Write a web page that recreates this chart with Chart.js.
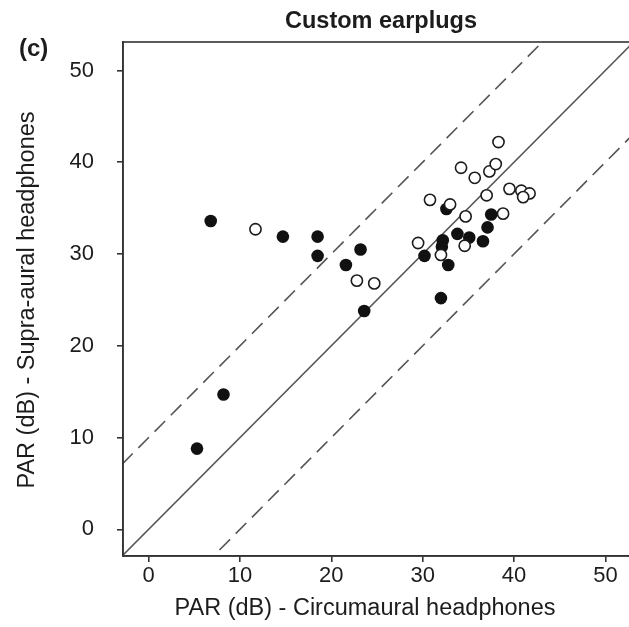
<!DOCTYPE html>
<html>
<head>
<meta charset="utf-8">
<title>Custom earplugs</title>
<script src="https://cdn.jsdelivr.net/npm/chart.js@4/dist/chart.umd.min.js"></script>
<style>
  html, body { margin: 0; padding: 0; background: #fff; }
  #wrap { width: 629px; height: 627px; overflow: hidden; position: relative; }
  canvas { display: block; }
</style>
</head>
<body>
<div id="wrap"><canvas id="parChart" width="640" height="627"></canvas></div>
<script>
// PAR (dB) per subject: circumaural (x) vs supra-aural (y)
const filledX = [5.3, 8.2, 6.8, 14.7, 18.5, 18.5, 21.6, 23.2, 23.6, 30.2, 32.0, 32.1, 32.2, 32.6, 32.8, 33.8, 35.1, 36.6, 37.1, 37.5];
const filledY = [8.8, 14.7, 33.6, 31.9, 31.9, 29.8, 28.8, 30.5, 23.8, 29.8, 25.2, 30.8, 31.5, 34.9, 28.8, 32.2, 31.8, 31.4, 32.9, 34.3];

const openX = [11.7, 22.8, 24.7, 29.5, 30.8, 32.0, 33.0, 34.6, 34.7, 38.8, 37.0, 39.5, 40.8, 41.7, 41.0, 35.7, 34.2, 37.3, 38.0, 38.3];
const openY = [32.7, 27.1, 26.8, 31.2, 35.9, 29.9, 35.4, 30.9, 34.1, 34.4, 36.4, 37.1, 36.9, 36.6, 36.2, 38.3, 39.4, 39.0, 39.8, 42.2];

// reference line y = x and the +/-10 dB band
const diagonalEnds = [-10, 70];
const bandOffset = 10;

const xTickValues = [0, 10, 20, 30, 40, 50];
const yTickValues = [0, 10, 20, 30, 40, 50];

const INK = '#1c1c1c';
const FONT = "'Liberation Sans', Arial, sans-serif";

function toPoints(xs, ys) {
  return xs.map((x, i) => ({ x, y: ys[i] }));
}

function diagonal(offset) {
  return diagonalEnds.map(x => ({ x, y: x + offset }));
}

// frame + titles drawn straight onto the canvas
const decorations = {
  id: 'decorations',
  afterDraw(chart) {
    const { ctx, chartArea } = chart;
    ctx.save();
    ctx.strokeStyle = '#333';
    ctx.lineWidth = 1.6;
    ctx.strokeRect(chartArea.left, chartArea.top, chartArea.right - chartArea.left, chartArea.bottom - chartArea.top);

    ctx.fillStyle = INK;
    ctx.textBaseline = 'alphabetic';

    ctx.font = `bold 23.5px ${FONT}`;
    ctx.textAlign = 'center';
    ctx.fillText('Custom earplugs', 381, 28);

    ctx.font = `bold 24px ${FONT}`;
    ctx.textAlign = 'left';
    ctx.fillText('(c)', 19, 56);

    ctx.font = `23.5px ${FONT}`;
    ctx.textAlign = 'center';
    ctx.fillText('PAR (dB) - Circumaural headphones', 365, 615);

    ctx.translate(34, 300);
    ctx.rotate(-Math.PI / 2);
    ctx.fillText('PAR (dB) - Supra-aural headphones', 0, 0);
    ctx.restore();
  }
};

const axisCommon = {
  type: 'linear',
  grid: { drawOnChartArea: false, drawTicks: true, tickLength: 6, color: '#333', lineWidth: 1.6 },
  border: { display: true, color: '#333', width: 1.6 },
};

new Chart(document.getElementById('parChart'), {
  type: 'scatter',
  data: {
    datasets: [
      {
        label: 'open',
        data: toPoints(openX, openY),
        pointRadius: 5.6,
        pointBackgroundColor: '#fff',
        pointBorderColor: INK,
        pointBorderWidth: 1.6,
      },
      {
        label: 'filled',
        data: toPoints(filledX, filledY),
        pointRadius: 6.3,
        pointBackgroundColor: '#111',
        pointBorderColor: '#111',
        pointBorderWidth: 0,
      },
      {
        type: 'line',
        label: 'y = x',
        data: diagonal(0),
        borderColor: '#555',
        borderWidth: 1.6,
        pointRadius: 0,
        clip: 0,
      },
      {
        type: 'line',
        label: 'upper',
        data: diagonal(bandOffset),
        borderColor: '#555',
        borderWidth: 1.6,
        borderDash: [15, 8],
        pointRadius: 0,
        clip: 0,
      },
      {
        type: 'line',
        label: 'lower',
        data: diagonal(-bandOffset),
        borderColor: '#555',
        borderWidth: 1.6,
        borderDash: [15, 8],
        pointRadius: 0,
        clip: 0,
      },
    ],
  },
  options: {
    responsive: false,
    devicePixelRatio: 1,
    animation: false,
    events: [],
    layout: { padding: { top: 42, right: 4, left: 0, bottom: 0 } },
    plugins: { legend: { display: false }, tooltip: { enabled: false }, title: { display: false } },
    scales: {
      x: {
        ...axisCommon,
        position: 'bottom',
        min: -2.8,
        max: 53,
        afterBuildTicks: scale => { scale.ticks = xTickValues.map(value => ({ value })); },
        afterFit: scale => { scale.height = 71; },
        ticks: { color: INK, padding: 1, font: { family: FONT, size: 22 }, maxRotation: 0 },
      },
      y: {
        ...axisCommon,
        position: 'left',
        min: -2.9,
        max: 53.1,
        afterBuildTicks: scale => { scale.ticks = yTickValues.map(value => ({ value })); },
        afterFit: scale => { scale.width = 123; },
        ticks: { color: INK, padding: 23, font: { family: FONT, size: 22 } },
      },
    },
  },
  plugins: [decorations],
});
</script>
</body>
</html>
